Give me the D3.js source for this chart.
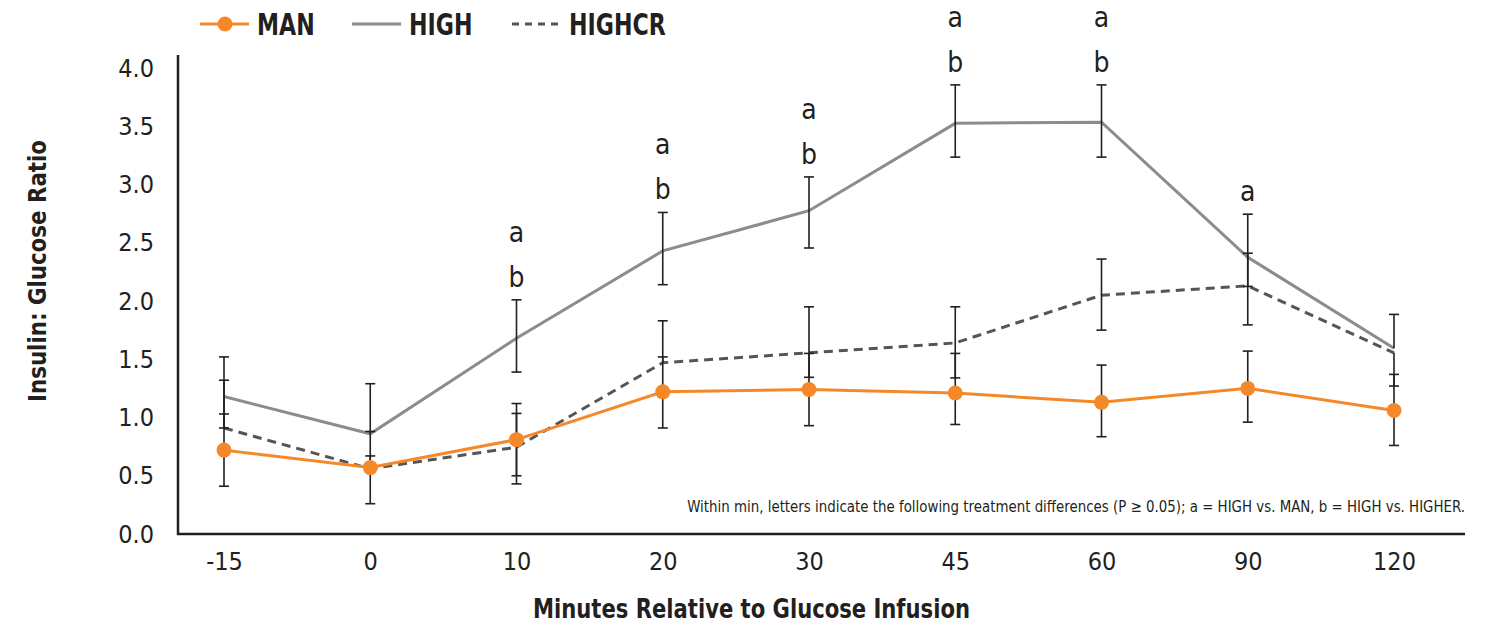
<!DOCTYPE html>
<html>
<head>
<meta charset="utf-8">
<script src="https://cdn.jsdelivr.net/npm/d3@7"></script>
<style>
  html, body { margin: 0; padding: 0; background: #ffffff; }
  svg { display: block; }
  text { font-family: "Liberation Sans Narrow", "DejaVu Sans Condensed", "Roboto", sans-serif; font-stretch: condensed; }
</style>
</head>
<body>
<svg id="chart" width="1495" height="627"></svg>
<script>
// Sampling times (minutes relative to glucose infusion)
const categories = ["-15", "0", "10", "20", "30", "45", "60", "90", "120"];

// Insulin:glucose ratio by treatment
const manValues    = [0.72, 0.57, 0.81, 1.22, 1.24, 1.21, 1.13, 1.25, 1.06];
const highValues   = [1.18, 0.86, 1.68, 2.43, 2.775, 3.525, 3.535, 2.375, 1.595];
const highcrValues = [0.91, 0.56, 0.745, 1.47, 1.555, 1.64, 2.05, 2.13, 1.555];

// Error bar extents above / below each mean
const manErrUp      = [0.31, 0.31, 0.31, 0.30, 0.31, 0.34, 0.32, 0.32, 0.31];
const manErrDown    = [0.31, 0.31, 0.31, 0.31, 0.31, 0.27, 0.295, 0.29, 0.30];
const highErrUp     = [0.34, 0.43, 0.33, 0.33, 0.29, 0.33, 0.32, 0.37, 0.29];
const highErrDown   = [0.27, 0, 0.29, 0.29, 0.32, 0.29, 0.30, 0.25, 0];
const highcrErrUp   = [0.41, 0.11, 0.29, 0.36, 0.395, 0.31, 0.31, 0.28, 0];
const highcrErrDown = [0, 0, 0.315, 0, 0.21, 0.30, 0.30, 0.335, 0.285];

// Significance letters shown above the HIGH series
const sigLetters = ["", "", "ab", "ab", "ab", "ab", "ab", "a", ""];

const yTicks = [0, 0.5, 1.0, 1.5, 2.0, 2.5, 3.0, 3.5, 4.0];

const footnote = "Within min, letters indicate the following treatment differences (P \u2265 0.05); a = HIGH vs. MAN, b = HIGH vs. HIGHER.";

const ORANGE = "#f5892a";
const GREY = "#8c8c8c";
const DARK = "#555555";
const INK = "#231f20";

const series = [
  { name: "HIGH",   values: highValues,   up: highErrUp,   down: highErrDown,   color: GREY,   dash: null },
  { name: "HIGHCR", values: highcrValues, up: highcrErrUp, down: highcrErrDown, color: DARK,   dash: "9,6" },
  { name: "MAN",    values: manValues,    up: manErrUp,    down: manErrDown,    color: ORANGE, dash: null }
];

// Narrow a text horizontally about its own anchor point
function squeeze(sel, k) {
  sel.each(function () {
    const t = d3.select(this);
    const tx = +t.attr("x") || 0, ty = +t.attr("y") || 0;
    t.attr("transform", `translate(${tx},${ty}) scale(${k},1)`).attr("x", 0).attr("y", 0);
  });
}

const svg = d3.select("#chart");
const plot = { left: 178, right: 1465, top: 55, bottom: 534 };

const x = d3.scalePoint().domain(categories).range([plot.left + 46, plot.right - 71]);
const y = d3.scaleLinear().domain([0, 4]).range([plot.bottom, 68]);

// Axes: plain lines, no tick marks
svg.append("path")
  .attr("d", `M${plot.left},${plot.top}V${plot.bottom}H${plot.right}`)
  .attr("fill", "none").attr("stroke", INK).attr("stroke-width", 2.5);

const yAxis = d3.axisLeft(y).tickValues(yTicks).tickFormat(d3.format(".1f")).tickSize(0).tickPadding(24);
const gy = svg.append("g").attr("transform", `translate(${plot.left},0)`).call(yAxis);
gy.select(".domain").remove();
gy.selectAll("text").attr("font-size", 25).attr("fill", INK).attr("font-weight", 300);

const xAxis = d3.axisBottom(x).tickSize(0).tickPadding(18);
const gx = svg.append("g").attr("transform", `translate(0,${plot.bottom})`).call(xAxis);
gx.select(".domain").remove();
gx.selectAll("text").attr("font-size", 25).attr("fill", INK).attr("font-weight", 300);

// Series lines
const line = d3.line().x((d, i) => x(categories[i])).y(d => y(d));
series.forEach(s => {
  svg.append("path")
    .datum(s.values)
    .attr("d", line)
    .attr("fill", "none")
    .attr("stroke", s.color)
    .attr("stroke-width", 3)
    .attr("stroke-dasharray", s.dash);
});

// Error bars
const cap = 5;
series.forEach(s => {
  const g = svg.append("g").attr("stroke", INK).attr("stroke-width", 1.6);
  s.values.forEach((v, i) => {
    const cx = x(categories[i]);
    const hi = v + s.up[i], lo = v - s.down[i];
    g.append("line").attr("x1", cx).attr("x2", cx).attr("y1", y(hi)).attr("y2", y(lo));
    if (s.up[i] > 0) g.append("line").attr("x1", cx - cap).attr("x2", cx + cap).attr("y1", y(hi)).attr("y2", y(hi));
    if (s.down[i] > 0) g.append("line").attr("x1", cx - cap).attr("x2", cx + cap).attr("y1", y(lo)).attr("y2", y(lo));
  });
});

// MAN markers
svg.append("g").selectAll("circle")
  .data(manValues)
  .join("circle")
  .attr("cx", (d, i) => x(categories[i]))
  .attr("cy", d => y(d))
  .attr("r", 7.5)
  .attr("fill", ORANGE);

// Significance letters stacked above the HIGH error bar
sigLetters.forEach((letters, i) => {
  const chars = letters.split("");
  const baseY = y(highValues[i] + highErrUp[i]) - 13;
  chars.reverse().forEach((c, k) => {
    svg.append("text")
      .attr("x", x(categories[i]))
      .attr("y", baseY - k * 45)
      .attr("text-anchor", "middle")
      .attr("font-size", 28)
      .attr("font-weight", 300)
      .attr("fill", INK)
      .text(c);
  });
});

// Footnote
svg.append("text")
  .attr("x", plot.right)
  .attr("y", 512)
  .attr("text-anchor", "end")
  .attr("font-size", 16)
  .attr("fill", INK)
  .text(footnote)
  .call(squeeze, 0.93);

// Axis titles
svg.append("text")
  .attr("x", (plot.left + plot.right) / 2 - 70)
  .attr("y", 618)
  .attr("text-anchor", "middle")
  .attr("font-size", 27)
  .attr("font-weight", "bold")
  .attr("fill", INK)
  .text("Minutes Relative to Glucose Infusion")
  .call(squeeze, 0.87);

svg.append("text")
  .attr("transform", `translate(46,${271}) rotate(-90) scale(0.95,1)`)
  .attr("text-anchor", "middle")
  .attr("font-size", 25)
  .attr("font-weight", "bold")
  .attr("fill", INK)
  .text("Insulin: Glucose Ratio");

// Legend
const legendItems = [
  { name: "MAN",    color: ORANGE, dash: null, dot: true,  x: 200 },
  { name: "HIGH",   color: GREY,   dash: null, dot: false, x: 352 },
  { name: "HIGHCR", color: DARK,   dash: "7,6", dot: false, x: 512 }
];
const legend = svg.append("g");
legendItems.forEach(item => {
  const g = legend.append("g").attr("transform", `translate(${item.x},24)`);
  g.append("line").attr("x1", 0).attr("x2", 49).attr("y1", 0).attr("y2", 0)
    .attr("stroke", item.color).attr("stroke-width", 3).attr("stroke-dasharray", item.dash);
  if (item.dot) g.append("circle").attr("cx", 25).attr("cy", 0).attr("r", 7.5).attr("fill", item.color);
  g.append("text").attr("x", 57).attr("y", 11)
    .attr("font-size", 30).attr("font-weight", "bold").attr("fill", INK)
    .text(item.name)
    .call(squeeze, 0.82);
});
</script>
</body>
</html>
